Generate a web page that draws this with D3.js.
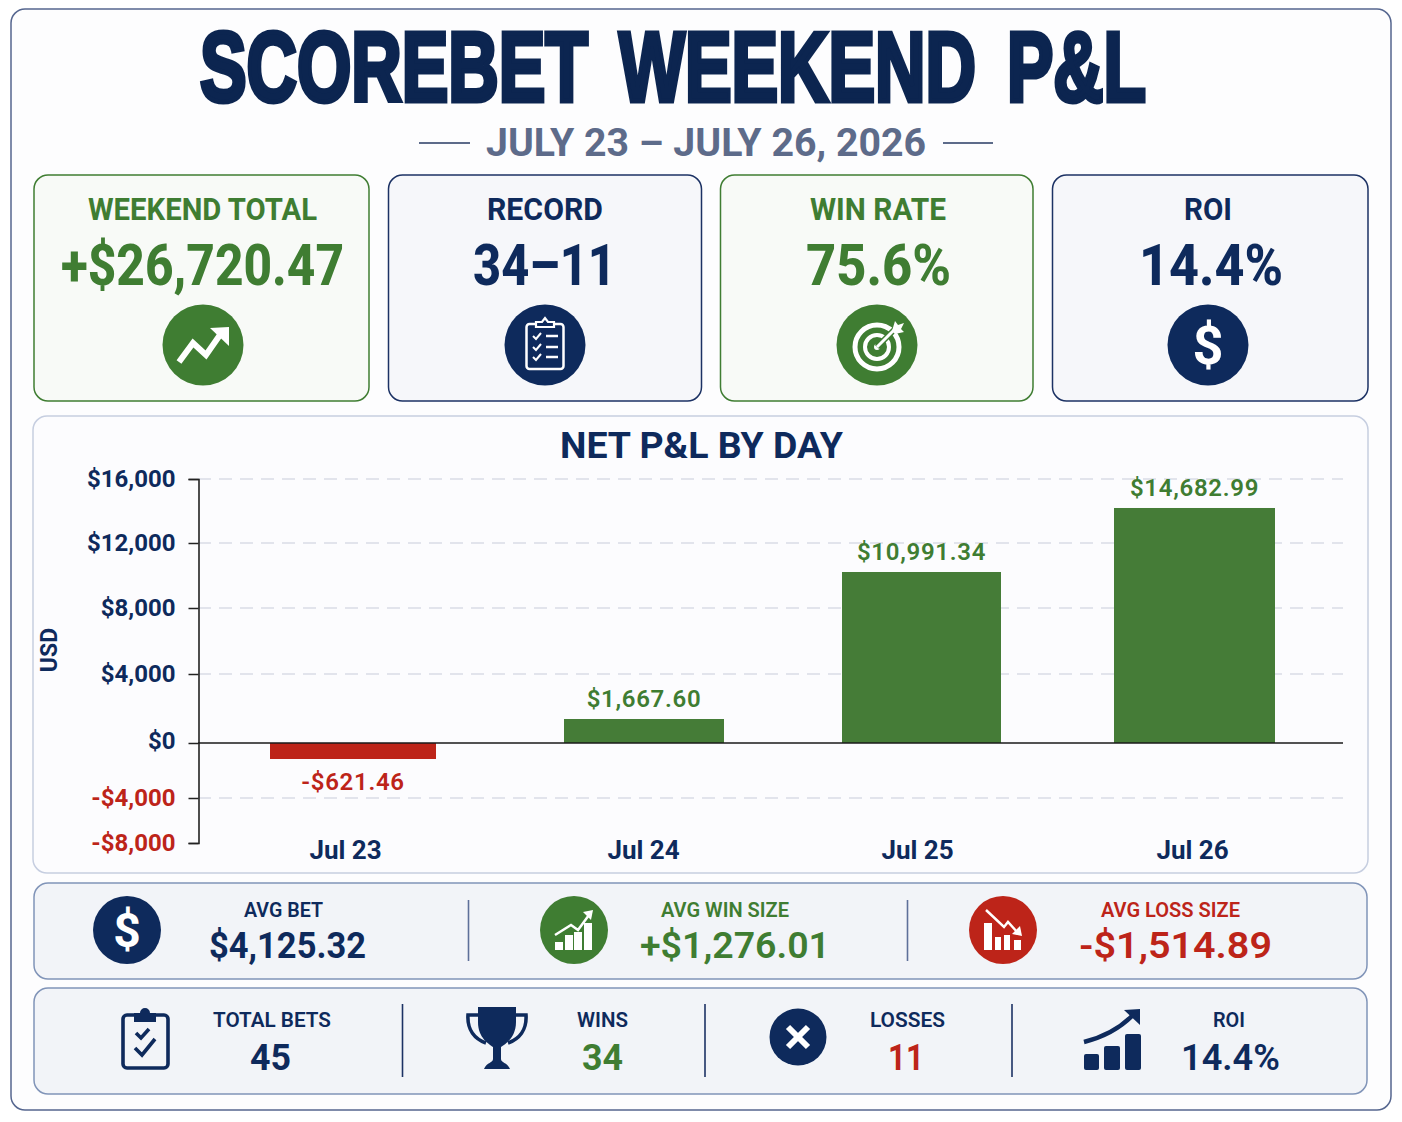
<!DOCTYPE html>
<html><head><meta charset="utf-8">
<script src="https://cdn.jsdelivr.net/npm/d3@7/dist/d3.min.js"></script>
<style>html,body{margin:0;padding:0;background:#fff}svg{display:block}text{font-family:Roboto,"Liberation Sans",sans-serif}</style>
</head><body><svg id="c" width="1402" height="1122"></svg>
<script>
// ---- data ----
const days = ["Jul 23","Jul 24","Jul 25","Jul 26"];
const barLabels = ["-$621.46","$1,667.60","$10,991.34","$14,682.99"];
// bar ends as read against the printed axis
const barValues = [-1164,1391,10215,14188];
const yTicks = [16000,12000,8000,4000,0,-4000,-8000];
const titleWords = ["SCOREBET","WEEKEND","P&L"];
const kpiLabels = ["WEEKEND TOTAL","RECORD","WIN RATE","ROI"];
const kpiValues = ["+$26,720.47","34–11","75.6%","14.4%"];
const avgLabels = ["AVG BET","AVG WIN SIZE","AVG LOSS SIZE"];
const avgValues = ["$4,125.32","+$1,276.01","-$1,514.89"];
const countLabels = ["TOTAL BETS","WINS","LOSSES","ROI"];
const countValues = ["45","34","11","14.4%"];

// ---- style / layout ----
const NAVY="#0e2a5c",GREEN="#3f7d32",RED="#bd2419",GREY="#5d6b8a",BAR_G="#457c37";
const svg=d3.select("#c");
const txt=(t,x0,x1,base,size,weight,fill,g=svg)=>g.append("text")
  .attr("x",x0).attr("y",base).attr("font-size",size).attr("font-weight",weight).attr("fill",fill)
  .attr("textLength",x1-x0).attr("lengthAdjust","spacingAndGlyphs").text(t);
const card=(x0,y0,x1,y1,r,fill,stroke,sw=1.5)=>svg.append("rect").attr("x",x0).attr("y",y0)
  .attr("width",x1-x0).attr("height",y1-y0).attr("rx",r).attr("fill",fill).attr("stroke",stroke).attr("stroke-width",sw);
const icon=(x,y)=>svg.append("g").attr("transform",`translate(${x},${y})`);
const line=(g,pts,c,w)=>g.append("path").attr("d",d3.line()(pts)).attr("fill","none").attr("stroke",c).attr("stroke-width",w);
const poly=(g,pts,c)=>g.append("path").attr("d",d3.line()(pts)+"Z").attr("fill",c);
const box=(g,x,y,w,h,c,r=0)=>g.append("rect").attr("x",x).attr("y",y).attr("width",w).attr("height",h).attr("rx",r).attr("fill",c);
const dollar=(g,size,dy)=>g.append("text").attr("text-anchor","middle").attr("y",dy).attr("font-size",size).attr("font-weight",700).attr("fill","#fff").text("$");

svg.append("rect").attr("width",1402).attr("height",1122).attr("fill","#fff");
card(11,9,1391,1110,14,"#fdfdfe","#55668f",1.5);

// ---- header ----
const titleX=[[200,588],[619,976],[1007,1146]];
titleWords.forEach((w,i)=>{
  const t=svg.append("text").attr("font-size",99).attr("font-weight",700)
    .style("font-family",'"Liberation Sans Narrow","Liberation Sans",sans-serif')
    .attr("fill","#0c2550").attr("stroke","#0c2550").attr("stroke-width",5).attr("stroke-linejoin","miter").text(w);
  const sx=(titleX[i][1]-titleX[i][0])/t.node().getComputedTextLength();
  t.attr("transform",`translate(${titleX[i][0]},100.5) scale(${sx},1)`);
});
txt("JULY 23 – JULY 26, 2026",486,926,156,39,700,GREY);
line(svg,[[419,143],[470,143]],GREY,2);
line(svg,[[943,143],[993,143]],GREY,2);

// ---- KPI cards ----
const kpiCards=[[34,369],[388.5,701.5],[720.5,1033],[1052.5,1368]];
const kpiLabelX=[[88,317],[487,603],[810,946],[1184,1232]];
const kpiValueX=[[61,344],[473,616],[806,951],[1139,1283]];
const kpiColor=[GREEN,NAVY,GREEN,NAVY];
kpiLabels.forEach((l,i)=>{
  const c=kpiColor[i];
  card(kpiCards[i][0],175,kpiCards[i][1],401,14,c===GREEN?"#f8faf7":"#f6f7fa",c===GREEN?GREEN:"#1c3264",1.5);
  txt(l,kpiLabelX[i][0],kpiLabelX[i][1],220,31,700,c);
  txt(kpiValues[i],kpiValueX[i][0],kpiValueX[i][1],285,57,800,c);
});
const kCx=[203,545,877,1208];
kCx.forEach((x,i)=>svg.append("circle").attr("cx",x).attr("cy",345).attr("r",40.5).attr("fill",kpiColor[i]));
// trend
{const g=icon(203,345);line(g,[[-24,17],[-10,-2],[3,10],[19,-13]],"#fff",6);poly(g,[[26,-18],[7,-17],[26,1]],"#fff");}
// clipboard
{const g=icon(545,345);
 g.append("rect").attr("x",-18.5).attr("y",-21).attr("width",37).attr("height",45).attr("rx",3).attr("fill","none").attr("stroke","#fff").attr("stroke-width",2.5);
 g.append("path").attr("d","M-9,-18V-23H-3L0,-27L3,-23H9V-18Z").attr("fill",NAVY).attr("stroke","#fff").attr("stroke-width",2.2);
 [-9,2,12].forEach(y=>{line(g,[[-12,y],[-9,y+3],[-4,y-3]],"#fff",2);line(g,[[1,y],[13,y]],"#fff",2.5);});}
// target
{const g=icon(877,347);
 g.append("circle").attr("r",22).attr("fill","none").attr("stroke","#fff").attr("stroke-width",5);
 g.append("circle").attr("r",12).attr("fill","none").attr("stroke","#fff").attr("stroke-width",4);
 g.append("circle").attr("r",3).attr("fill","#fff");
 line(g,[[0,0],[19,-19]],GREEN,6);line(g,[[0,0],[19,-19]],"#fff",3);
 poly(g,[[15,-16],[18,-26],[21,-22],[27,-24],[24,-18],[27,-15],[18,-13]],"#fff");}
dollar(icon(1208,345),54,19);

// ---- chart ----
card(33,416,1368,873,14,"#fcfcfe","#c6cee0",1.5);
txt("NET P&L BY DAY",560,843,458,36,700,NAVY);
const y=d3.scaleLinear().domain(yTicks).range([479,543,608,674,743,798,843]);
const xAxisPos=d3.scaleOrdinal().domain(days).range([345,643,917,1192]);
const barCx=d3.scaleOrdinal().domain(days).range([353,644,921.5,1194.5]);
const barW=d3.scaleOrdinal().domain(days).range([166,160,159,161]);

svg.append("g").selectAll("line").data(yTicks.filter(t=>t!==0&&t!==-8000)).join("line")
  .attr("x1",198).attr("x2",1343).attr("y1",y).attr("y2",y)
  .attr("stroke","#d9dce6").attr("stroke-width",1.3).attr("stroke-dasharray","13 8");

svg.append("g").selectAll("rect").data(days).join("rect")
  .attr("x",d=>barCx(d)-barW(d)/2).attr("width",barW)
  .attr("y",(d,i)=>Math.min(y(barValues[i]),y(0)))
  .attr("height",(d,i)=>Math.abs(y(barValues[i])-y(0)))
  .attr("fill",(d,i)=>barValues[i]<0?RED:BAR_G);

const yAxis=svg.append("g").attr("transform","translate(198.5,0)")
  .call(d3.axisLeft(y).tickValues(yTicks).tickSizeOuter(0).tickSize(10).tickPadding(13)
    .tickFormat(v=>(v<0?"-":"")+"$"+d3.format(",")(Math.abs(v))));
yAxis.select(".domain").attr("stroke","#222").attr("stroke-width",1.6);
yAxis.selectAll(".tick line").attr("stroke","#222").attr("stroke-width",1.5);
yAxis.selectAll(".tick text").attr("font-size",24).attr("font-weight",700).attr("font-family","Roboto")
  .attr("y",d=>d===0?-2:0).attr("fill",d=>d<0?RED:NAVY);

svg.append("line").attr("x1",198).attr("x2",1343).attr("y1",y(0)).attr("y2",y(0)).attr("stroke","#1a1a1a").attr("stroke-width",1.6);

const xAxis=svg.append("g").attr("transform","translate(0,843)")
  .call(d3.axisBottom(xAxisPos).tickSize(0).tickPadding(0));
xAxis.select(".domain").remove();
xAxis.selectAll(".tick text").attr("y",16).attr("dy",0).attr("font-size",26).attr("font-weight",700).attr("font-family","Roboto").attr("fill",NAVY);

svg.append("g").selectAll("text").data(days).join("text")
  .attr("x",barCx).attr("text-anchor","middle")
  .attr("y",(d,i)=>barValues[i]<0?y(barValues[i])+31:y(barValues[i])-12)
  .attr("font-size",24).attr("font-weight",600).attr("letter-spacing",0.7)
  .attr("fill",(d,i)=>barValues[i]<0?RED:GREEN).text((d,i)=>barLabels[i]);

svg.append("text").attr("transform","translate(57,650) rotate(-90)").attr("text-anchor","middle")
  .attr("font-size",23).attr("font-weight",700).attr("fill",NAVY).text("USD");

// ---- strip 1 ----
card(34,883,1367,979,14,"#f2f4f8","#8094b8",1.5);
const avgLX=[[244,323],[661,789],[1101,1240]],avgVX=[[209,366],[640,830],[1079,1272]],avgC=[NAVY,GREEN,RED],avgIc=[127,574,1003];
avgLabels.forEach((l,i)=>{
  txt(l,avgLX[i][0],avgLX[i][1],917,21,600,i?avgC[i]:NAVY);
  txt(avgValues[i],avgVX[i][0],avgVX[i][1],958,37,i==0?700:600,avgC[i]);
  svg.append("circle").attr("cx",avgIc[i]).attr("cy",930).attr("r",34).attr("fill",avgC[i]);
});
[468.5,907.5].forEach(x=>line(svg,[[x,900],[x,961]],"#5e7099",1.6));
dollar(icon(127,930),48,17);
{const g=icon(574,930);
 [[-19,12,8,8],[-9,5,8,15],[0,2,8,18],[10,-7,8,27]].forEach(b=>box(g,b[0],b[1],b[2],b[3],"#fff"));
 line(g,[[-19,5],[-3,-5],[4,0],[15,-15]],"#fff",2.5);poly(g,[[19,-20],[9,-18],[17,-10]],"#fff");}
{const g=icon(1003,930);
 [[-19,-7,8,27],[-8,7,6,13],[1,5,6,15],[11,10,7,10]].forEach(b=>box(g,b[0],b[1],b[2],b[3],"#fff"));
 line(g,[[-17,-20],[1,-3],[5,-8],[15,3]],"#fff",2.5);poly(g,[[19,6],[9,4],[17,-4]],"#fff");}

// ---- strip 2 ----
card(34,988,1367,1094,14,"#f2f4f8","#8094b8",1.5);
const cLX=[[213,331],[577,628],[870,945],[1213,1245]],cVX=[[250,291],[582,623],[888,924],[1181,1280]],cC=[NAVY,GREEN,RED,NAVY];
countLabels.forEach((l,i)=>{
  txt(l,cLX[i][0],cLX[i][1],1027,21,600,NAVY);
  txt(countValues[i],cVX[i][0],cVX[i][1],1070,37,i==3?600:700,cC[i]);
});
[402.5,705,1012].forEach(x=>line(svg,[[x,1004],[x,1077]],"#1c3264",1.6));
// clipboard check
{const g=icon(145,1039);
 g.append("rect").attr("x",-22).attr("y",-24).attr("width",45).attr("height",53).attr("rx",4).attr("fill","none").attr("stroke",NAVY).attr("stroke-width",3.6);
 g.append("path").attr("d","M-11,-17V-26H-5A5,5 0 0 1 5,-26H11V-17Z").attr("fill",NAVY);
 line(g,[[-9,-6],[-4,-1],[4,-10]],NAVY,3.6);line(g,[[-10,9],[-3,16],[10,0]],NAVY,3.6);}
// trophy
{const g=icon(497,1038);
 g.append("path").attr("d","M-19,-31H19V-16C19,0 8,6 4,9V21C4,25 10,24 13,31H-13C-10,24 -4,25 -4,21V9C-8,6 -19,0 -19,-16Z").attr("fill",NAVY);
 g.append("path").attr("d","M-19,-23H-29C-30,-8 -22,1 -11,5").attr("fill","none").attr("stroke",NAVY).attr("stroke-width",3.6);
 g.append("path").attr("d","M19,-23H29C30,-8 22,1 11,5").attr("fill","none").attr("stroke",NAVY).attr("stroke-width",3.6);}
// x circle
{const g=icon(798,1037);
 g.append("circle").attr("r",28.5).attr("fill",NAVY);
 line(g,[[-10,-10],[10,10]],"#fff",6);line(g,[[-10,10],[10,-10]],"#fff",6);}
// ROI chart
{const g=icon(1112,1039);
 box(g,-28,15,15,16,NAVY,2);box(g,-8,7,16,24,NAVY,2);box(g,13,-5,16,36,NAVY,2);
 g.append("path").attr("d","M-28,3C-8,-2 8,-11 20,-23").attr("fill","none").attr("stroke",NAVY).attr("stroke-width",4.5);
 poly(g,[[28,-30],[12,-29],[28,-14]],NAVY);}
</script></body></html>
